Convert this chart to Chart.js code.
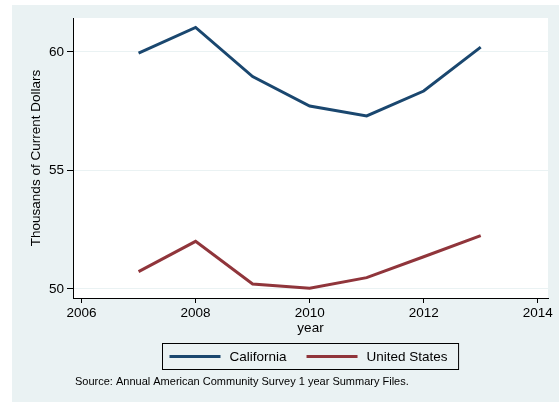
<!DOCTYPE html>
<html>
<head>
<meta charset="utf-8">
<script src="https://cdn.jsdelivr.net/npm/chart.js@4.4.0/dist/chart.umd.min.js"></script>
<style>
  html, body { margin: 0; padding: 0; background: #fff; }
  #wrap { width: 559px; height: 402px; }
</style>
</head>
<body>
<div id="wrap"><canvas id="chart" width="559" height="402"></canvas></div>
<script>
// data (thousands of current dollars)
const years = [2007, 2008, 2009, 2010, 2011, 2012, 2013];
const california = [59.95, 61.03, 58.96, 57.72, 57.30, 58.35, 60.20];
const unitedStates = [50.73, 52.01, 50.21, 50.03, 50.48, 51.36, 52.25];
const xTicks = [2006, 2008, 2010, 2012, 2014];
const yTicks = [50, 55, 60];
const seriesNames = ['California', 'United States'];
const sourceNote = 'Source: Annual American Community Survey 1 year Summary Files.';

const FONT = '"Liberation Sans", Arial, Helvetica, sans-serif';
const BG = '#eaf2f3';

const toPoints = (vals) => years.map((y, i) => ({ x: y, y: vals[i] }));

const backdrop = {
  id: 'backdrop',
  beforeDraw(chart) {
    const { ctx, chartArea: a } = chart;
    ctx.save();
    ctx.fillStyle = '#fff';
    ctx.fillRect(0, 0, chart.width, chart.height);
    ctx.fillStyle = BG;
    ctx.fillRect(12, 5, chart.width - 12, chart.height - 5);
    ctx.fillStyle = '#fff';
    ctx.fillRect(a.left, a.top, a.right - a.left, a.bottom - a.top);
    ctx.restore();
  }
};

// Stata-style boxed legend plus the source note
const stataLegend = {
  id: 'stataLegend',
  afterDraw(chart) {
    const { ctx } = chart;
    const ds = chart.data.datasets;
    ctx.save();
    ctx.font = '13.5px ' + FONT;
    const lineLen = 51, padL = 7, gapText = 9, gapItem = 20, padR = 11;
    let total = padL + padR;
    ds.forEach((d, i) => {
      total += lineLen + gapText + ctx.measureText(d.label).width;
      if (i < ds.length - 1) total += gapItem;
    });
    const cx = 310, top = 343.5, h = 26;
    const left = Math.round(cx - total / 2) + 0.5;
    ctx.strokeStyle = '#000';
    ctx.lineWidth = 1;
    ctx.strokeRect(left, top, total, h);
    let x = left + padL;
    const my = top + h / 2;
    ds.forEach((d, i) => {
      ctx.strokeStyle = d.borderColor;
      ctx.lineWidth = 3;
      ctx.beginPath();
      ctx.moveTo(x, my);
      ctx.lineTo(x + lineLen, my);
      ctx.stroke();
      x += lineLen + gapText;
      ctx.fillStyle = '#000';
      ctx.textBaseline = 'middle';
      ctx.textAlign = 'left';
      ctx.fillText(d.label, x, my + 0.5);
      x += ctx.measureText(d.label).width + gapItem;
    });
    ctx.font = '11px ' + FONT;
    ctx.fillText(sourceNote, 75, 382);
    ctx.restore();
  }
};

new Chart(document.getElementById('chart'), {
  type: 'line',
  data: {
    datasets: [
      {
        label: seriesNames[0],
        data: toPoints(california),
        borderColor: '#1a476f',
        borderWidth: 3,
        pointRadius: 0,
        tension: 0,
        fill: false
      },
      {
        label: seriesNames[1],
        data: toPoints(unitedStates),
        borderColor: '#90353b',
        borderWidth: 3,
        pointRadius: 0,
        tension: 0,
        fill: false
      }
    ]
  },
  options: {
    responsive: false,
    animation: false,
    layout: { padding: { top: 18, right: 11, left: 0, bottom: 0 } },
    plugins: {
      legend: { display: false },
      tooltip: { enabled: false }
    },
    scales: {
      x: {
        type: 'linear',
        min: 2005.85,
        max: 2014.18,
        afterBuildTicks(scale) { scale.ticks = xTicks.map(v => ({ value: v })); },
        afterFit(scale) { scale.height = 104; },
        grid: { drawOnChartArea: false, tickColor: '#000', tickLength: 5 },
        border: { color: '#000', width: 1 },
        ticks: {
          color: '#000',
          font: { family: FONT, size: 13.5 },
          padding: 2,
          maxRotation: 0,
          callback: (v) => String(v)
        },
        title: {
          display: true,
          text: 'year',
          color: '#000',
          font: { family: FONT, size: 13.5 },
          padding: { bottom: 66 }
        }
      },
      y: {
        type: 'linear',
        min: 49.62,
        max: 61.43,
        afterBuildTicks(scale) { scale.ticks = yTicks.map(v => ({ value: v })); },
        afterFit(scale) { scale.width = 73; },
        grid: { color: BG, lineWidth: 1, tickColor: '#000', tickLength: 6 },
        border: { color: '#000', width: 1 },
        ticks: {
          color: '#000',
          font: { family: FONT, size: 13.5 },
          padding: 3,
          callback: (v) => String(v)
        },
        title: {
          display: true,
          text: 'Thousands of Current Dollars',
          color: '#000',
          font: { family: FONT, size: 13.5 },
          padding: { top: 28 }
        }
      }
    }
  },
  plugins: [backdrop, stataLegend]
});
</script>
</body>
</html>
